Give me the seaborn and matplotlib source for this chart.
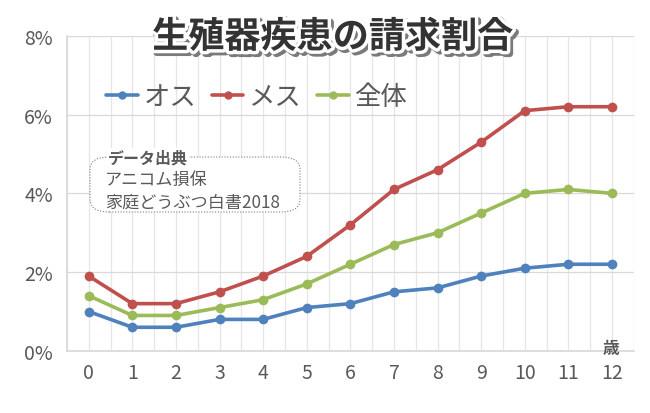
import matplotlib
matplotlib.use("Agg")
import matplotlib.pyplot as plt
import matplotlib.patheffects as pe
from matplotlib.patches import FancyBboxPatch
from matplotlib.ticker import MultipleLocator, FuncFormatter
import seaborn as sns
import pandas as pd

# data (percent)
ages = list(range(13))
male = [1.0, 0.6, 0.6, 0.8, 0.8, 1.1, 1.2, 1.5, 1.6, 1.9, 2.1, 2.2, 2.2]
female = [1.9, 1.2, 1.2, 1.5, 1.9, 2.4, 3.2, 4.1, 4.6, 5.3, 6.1, 6.2, 6.2]
total = [1.4, 0.9, 0.9, 1.1, 1.3, 1.7, 2.2, 2.7, 3.0, 3.5, 4.0, 4.1, 4.0]
series_names = ["オス", "メス", "全体"]
colors = ["#4F81BD", "#C0504D", "#9BBB59"]

df = pd.DataFrame({
    "age": ages * 3,
    "rate": male + female + total,
    "sex": [series_names[0]] * 13 + [series_names[1]] * 13 + [series_names[2]] * 13,
})

sns.set_theme(style="white")
plt.rcParams["font.family"] = ["Noto Sans CJK JP", "DejaVu Sans"]
text_color = "#595959"

fig = plt.figure(figsize=(6.5, 4.14), dpi=100)
ax = fig.add_axes([0.103, 0.150, 0.872, 0.761])

sns.lineplot(data=df, x="age", y="rate", hue="sex", palette=colors,
             marker="o", markersize=7, markeredgewidth=0, linewidth=2.6,
             ax=ax, legend=False)

ax.set_xlim(-0.5, 12.5)
ax.set_ylim(0, 8)
ax.set_xticks(ages)
ax.xaxis.set_minor_locator(MultipleLocator(0.5))
ax.yaxis.set_major_locator(MultipleLocator(2))
ax.yaxis.set_major_formatter(FuncFormatter(lambda v, p: f"{v:.0f}%"))
ax.grid(True, which="both", axis="x", color="#E6E6E6", linewidth=0.9)
ax.grid(True, which="major", axis="y", color="#D9D9D9", linewidth=0.9)
ax.set_xlabel("")
ax.set_ylabel("")
ax.tick_params(axis="both", which="major", labelsize=14, colors=text_color,
               length=0, pad=8)
ax.tick_params(axis="y", length=4, color="#D9D9D9", width=0.8, pad=6)
ax.tick_params(axis="x", which="minor", length=0)
for side in ["top", "right"]:
    ax.spines[side].set_visible(False)
ax.spines["left"].set_color("#D9D9D9")
ax.spines["bottom"].set_color("#D9D9D9")

# legend
handles = [plt.Line2D([], [], color=c, marker="o", markersize=5, linewidth=2.6)
           for c in colors]
leg = fig.legend(handles, series_names, loc="center left",
                 bbox_to_anchor=(0.127, 0.765), ncol=3, frameon=False,
                 fontsize=19, handlelength=1.2, handletextpad=0.2,
                 columnspacing=0.6)
for t in leg.get_texts():
    t.set_color(text_color)

# title with outline and shadow
fig.text(0.512, 0.908, "生殖器疾患の請求割合", ha="center", va="center",
         fontsize=26, fontweight="bold", color="#333333",
         path_effects=[pe.Stroke(linewidth=5, foreground="#7A7A7A", offset=(2, -2)),
                       pe.Stroke(linewidth=5, foreground="white"),
                       pe.Normal()])

# source box
box = FancyBboxPatch((90 / 650, 1 - 213 / 414), 210 / 650, 55 / 414,
                     boxstyle="round,pad=0,rounding_size=0.03",
                     transform=fig.transFigure, facecolor="white",
                     edgecolor="#7F7F7F", linestyle=(0, (1, 1.5)),
                     linewidth=0.8, zorder=5)
fig.patches.append(box)
fig.text(108 / 650, 1 - 158 / 414, "データ出典", ha="left", va="center",
         fontsize=11.5, fontweight="bold", color=text_color, zorder=6,
         bbox=dict(facecolor="white", edgecolor="none", pad=1))
fig.text(105 / 650, 1 - 180 / 414, "アニコム損保", ha="left", va="center",
         fontsize=12.3, color=text_color, zorder=6)
fig.text(105 / 650, 1 - 203 / 414, "家庭どうぶつ白書2018", ha="left", va="center",
         fontsize=12.3, color=text_color, zorder=6)

# axis unit
fig.text(611 / 650, 1 - 349 / 414, "歳", ha="center", va="center",
         fontsize=12, fontweight="bold", color=text_color)

fig.savefig("out.png", dpi=100, facecolor="white")
